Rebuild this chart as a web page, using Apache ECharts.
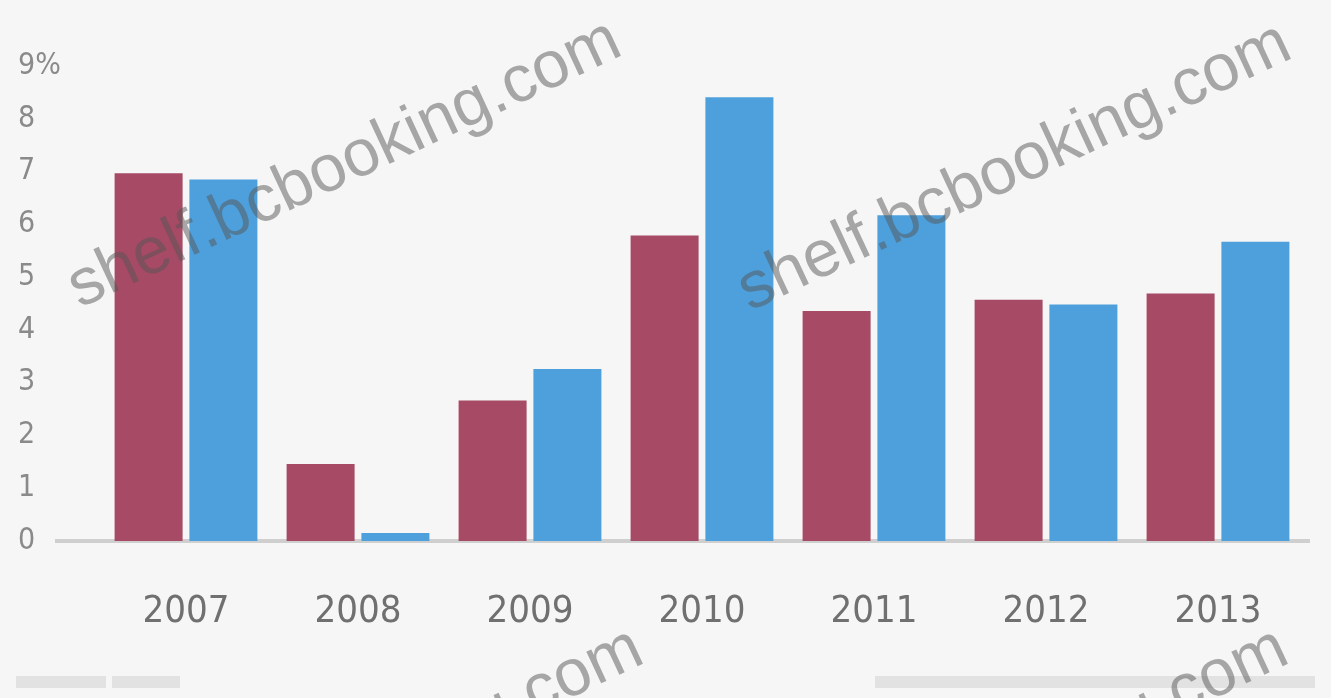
<!DOCTYPE html>
<html><head><meta charset="utf-8">
<script src="https://cdn.jsdelivr.net/npm/echarts@6/dist/echarts.min.js"></script>
<style>html,body{margin:0;padding:0;background:#f6f6f6;}#c{width:1331px;height:698px;}</style>
</head><body><div id="c"></div>
<script>
var categories = ['2007','2008','2009','2010','2011','2012','2013'];
var seriesA = [6.97, 1.46, 2.66, 5.79, 4.36, 4.57, 4.69];
var seriesB = [6.85, 0.15, 3.26, 8.41, 6.17, 4.48, 5.67];
var yTicks = [0,1,2,3,4,5,6,7,8,9];

var chart = echarts.init(document.getElementById('c'));
var wmStyle = {text:'shelf.bcbooking.com', font:'66px "Liberation Sans", Arial', fill:'rgba(85,85,85,0.5)'};
function wm(x,y){return {type:'text', x:x, y:y, rotation:25*Math.PI/180, z:100, style:Object.assign({}, wmStyle)};}
chart.setOption({
  backgroundColor:'#f6f6f6',
  animation:false,
  grid:{left:100, right:27, top:66, bottom:157},
  xAxis:{type:'category', data:categories,
    axisLine:{show:true, lineStyle:{color:'#cfcfcf', width:4}},
    axisTick:{show:false},
    axisLabel:{margin:52, fontSize:38, color:'#707070', fontFamily:'"Liberation Sans Narrow","DejaVu Sans Condensed",sans-serif'}
  },
  yAxis:{type:'value', min:0, max:9, interval:1,
    splitLine:{show:false},
    axisLine:{show:false}, axisTick:{show:false},
    axisLabel:{margin:82, align:'left', fontSize:30, color:'#8a8a8a', fontFamily:'"Liberation Sans Narrow","DejaVu Sans Condensed",sans-serif',
      formatter:function(v){return v===9 ? '9%' : String(v);}}
  },
  series:[
    {type:'bar', data:seriesA, barWidth:68, barGap:'10%', itemStyle:{color:'#a64a66'}},
    {type:'bar', data:seriesB, barWidth:68, itemStyle:{color:'#4ea0dc'}}
  ],
  graphic:[
    {type:'rect', shape:{x:55, y:539, width:1255, height:4}, style:{fill:'#cfcfcf'}, z:-1},
    wm(58,262), wm(728,265), wm(80,870), wm(725,870),
    {type:'rect', shape:{x:16, y:676, width:90, height:12}, style:{fill:'#e2e2e2'}},
    {type:'rect', shape:{x:112, y:676, width:68, height:12}, style:{fill:'#e2e2e2'}},
    {type:'rect', shape:{x:875, y:676, width:440, height:12}, style:{fill:'#e2e2e2'}}
  ]
});
</script></body></html>
